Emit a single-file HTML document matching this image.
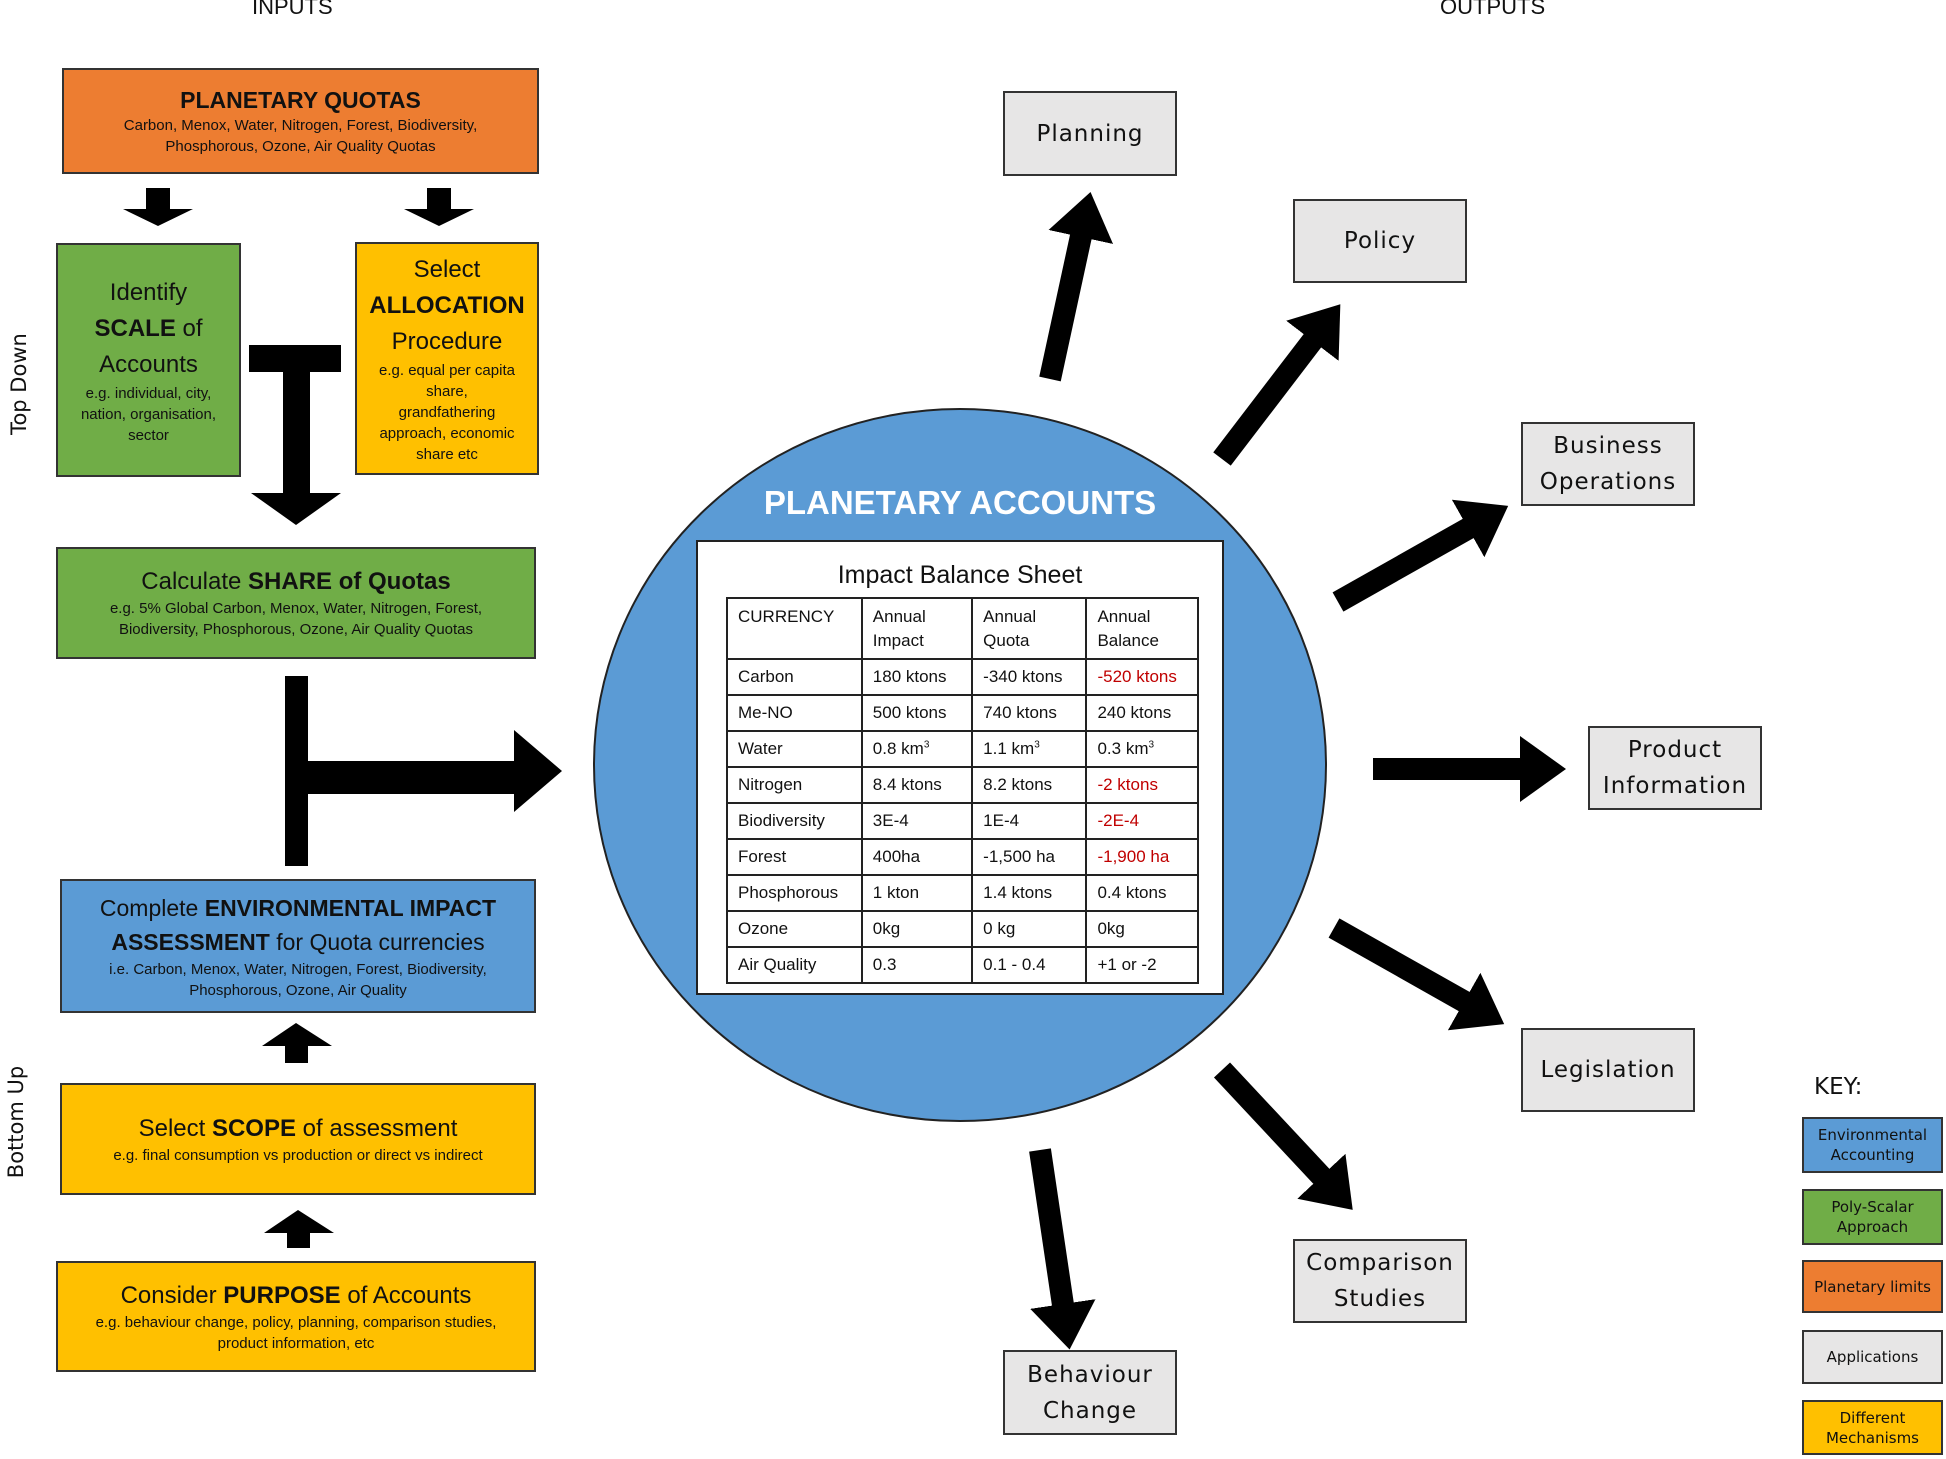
<!DOCTYPE html>
<html><head><meta charset="utf-8"><style>
*{margin:0;padding:0;box-sizing:border-box}
body{width:1946px;height:1459px;position:relative;background:#fff;font-family:"Liberation Sans",sans-serif;overflow:hidden;color:#111}
.b{position:absolute;border:2px solid #333;display:flex;flex-direction:column;justify-content:center;align-items:center;text-align:center}
.or{background:#ed7d31}.gr{background:#70ad47}.ye{background:#ffc000}.bl{background:#5b9bd5}.gy{background:#e7e6e6}
.s{font-size:15px;line-height:21px}
.m{font-size:24px;line-height:32px}
.o{font-family:"DejaVu Sans",sans-serif;font-size:23px;line-height:36px;letter-spacing:1px}
.k{font-family:"DejaVu Sans",sans-serif;font-size:15px;line-height:20px}
.lbl{position:absolute;font-size:22px}
table{position:absolute;left:726px;top:597px;width:473px;border-collapse:collapse;font-size:17px}
td{border:2px solid #222;padding:0 10px;height:36px;vertical-align:middle}
tr:first-child td{height:61px;vertical-align:top;padding-top:6px;line-height:24px}
.r{color:#c00000}
</style></head><body>
<div class="lbl" style="left:252px;top:-6px">INPUTS</div>
<div class="lbl" style="left:1440px;top:-6px">OUTPUTS</div>
<div class="lbl" style="left:-32px;top:372px;transform:rotate(-90deg);font-family:'DejaVu Sans',sans-serif;font-size:21px">Top Down</div>
<div class="lbl" style="left:-40px;top:1110px;transform:rotate(-90deg);font-family:'DejaVu Sans',sans-serif;font-size:21px">Bottom Up</div>

<div class="b or" style="left:62px;top:68px;width:477px;height:106px"><div style="font-size:23px;font-weight:bold;line-height:30px">PLANETARY QUOTAS</div><div class="s">Carbon, Menox, Water, Nitrogen, Forest, Biodiversity,<br>Phosphorous, Ozone, Air Quality Quotas</div></div>
<div class="b gr" style="left:56px;top:243px;width:185px;height:234px"><div style="font-size:24px;line-height:36px">Identify<br><b>SCALE</b> of<br>Accounts</div><div class="s">e.g. individual, city,<br>nation, organisation,<br>sector</div></div>
<div class="b ye" style="left:355px;top:242px;width:184px;height:233px"><div style="font-size:24px;line-height:36px">Select<br><b>ALLOCATION</b><br>Procedure</div><div class="s">e.g. equal per capita<br>share,<br>grandfathering<br>approach, economic<br>share etc</div></div>
<div class="b gr" style="left:56px;top:547px;width:480px;height:112px"><div class="m">Calculate <b>SHARE of Quotas</b></div><div class="s">e.g. 5% Global Carbon, Menox, Water, Nitrogen, Forest,<br>Biodiversity, Phosphorous, Ozone, Air Quality Quotas</div></div>
<div class="b bl" style="left:60px;top:879px;width:476px;height:134px"><div class="m" style="font-size:23px;line-height:34px">Complete <b>ENVIRONMENTAL IMPACT<br>ASSESSMENT</b> for Quota currencies</div><div class="s">i.e. Carbon, Menox, Water, Nitrogen, Forest, Biodiversity,<br>Phosphorous, Ozone, Air Quality</div></div>
<div class="b ye" style="left:60px;top:1083px;width:476px;height:112px"><div class="m">Select <b>SCOPE</b> of assessment</div><div class="s">e.g. final consumption vs production or direct vs indirect</div></div>
<div class="b ye" style="left:56px;top:1261px;width:480px;height:111px"><div class="m">Consider <b>PURPOSE</b> of Accounts</div><div class="s">e.g. behaviour change, policy, planning, comparison studies,<br>product information, etc</div></div>

<svg style="position:absolute;left:0;top:0" width="1946" height="1459">
<defs><marker id="h" markerUnits="userSpaceOnUse" markerWidth="50" markerHeight="66" refX="1" refY="33" orient="auto"><path d="M0,0 L46,33 L0,66 z" fill="#000"/></marker></defs>
<!-- small down arrows -->
<polygon points="146,188 170,188 170,209 193,209 158,226 123,209 146,209" fill="#000"/>
<polygon points="427,188 451,188 451,209 474,209 439,226 404,209 427,209" fill="#000"/>
<!-- T arrow -->
<polygon points="249,345 341,345 341,372 310,372 310,493 341,493 296,525 251,493 283,493 283,372 249,372" fill="#000"/>
<!-- big T -->
<rect x="285" y="676" width="23" height="190" fill="#000"/>
<polygon points="308,761 514,761 514,730 562,771 514,812 514,794 308,794" fill="#000"/>
<!-- up arrows -->
<polygon points="296,1023 332,1046 308,1046 308,1063 285,1063 285,1046 262,1046" fill="#000"/>
<polygon points="298,1210 334,1233 310,1233 310,1248 287,1248 287,1233 264,1233" fill="#000"/>
<!-- circle -->
<ellipse cx="960" cy="765" rx="366" ry="356" fill="#5b9bd5" stroke="#222" stroke-width="2"/>
<!-- output arrows -->
<g stroke="#000" stroke-width="22" marker-end="url(#h)">
<line x1="1050" y1="379" x2="1081" y2="236"/>
<line x1="1222" y1="459" x2="1313" y2="340"/>
<line x1="1338" y1="602" x2="1469" y2="528"/>
<line x1="1373" y1="769" x2="1521" y2="769"/>
<line x1="1334" y1="928" x2="1465" y2="1002"/>
<line x1="1222" y1="1070" x2="1322" y2="1177"/>
<line x1="1040" y1="1150" x2="1063" y2="1305"/>
</g>
</svg>

<div style="position:absolute;left:660px;top:484px;width:600px;text-align:center;color:#fff;font-weight:bold;font-size:33px">PLANETARY ACCOUNTS</div>
<div style="position:absolute;left:696px;top:540px;width:528px;height:455px;background:#fff;border:2px solid #222"></div>
<div style="position:absolute;left:696px;top:561px;width:528px;text-align:center;font-size:25px">Impact Balance Sheet</div>
<table>
<colgroup><col style="width:135px"><col style="width:111px"><col style="width:115px"><col style="width:112px"></colgroup>
<tr><td>CURRENCY</td><td>Annual<br>Impact</td><td>Annual<br>Quota</td><td>Annual<br>Balance</td></tr>
<tr><td>Carbon</td><td>180 ktons</td><td>-340 ktons</td><td class="r">-520 ktons</td></tr>
<tr><td>Me-NO</td><td>500 ktons</td><td>740 ktons</td><td>240 ktons</td></tr>
<tr><td>Water</td><td>0.8 km<sup style="font-size:10px">3</sup></td><td>1.1 km<sup style="font-size:10px">3</sup></td><td>0.3 km<sup style="font-size:10px">3</sup></td></tr>
<tr><td>Nitrogen</td><td>8.4 ktons</td><td>8.2 ktons</td><td class="r">-2 ktons</td></tr>
<tr><td>Biodiversity</td><td>3E-4</td><td>1E-4</td><td class="r">-2E-4</td></tr>
<tr><td>Forest</td><td>400ha</td><td>-1,500 ha</td><td class="r">-1,900 ha</td></tr>
<tr><td>Phosphorous</td><td>1 kton</td><td>1.4 ktons</td><td>0.4 ktons</td></tr>
<tr><td>Ozone</td><td>0kg</td><td>0 kg</td><td>0kg</td></tr>
<tr><td>Air Quality</td><td>0.3</td><td>0.1 - 0.4</td><td>+1 or -2</td></tr>
</table>

<div class="b gy o" style="left:1003px;top:91px;width:174px;height:85px">Planning</div>
<div class="b gy o" style="left:1293px;top:199px;width:174px;height:84px">Policy</div>
<div class="b gy o" style="left:1521px;top:422px;width:174px;height:84px">Business<br>Operations</div>
<div class="b gy o" style="left:1588px;top:726px;width:174px;height:84px">Product<br>Information</div>
<div class="b gy o" style="left:1521px;top:1028px;width:174px;height:84px">Legislation</div>
<div class="b gy o" style="left:1293px;top:1239px;width:174px;height:84px">Comparison<br>Studies</div>
<div class="b gy o" style="left:1003px;top:1350px;width:174px;height:85px">Behaviour<br>Change</div>

<div class="lbl" style="left:1814px;top:1074px;font-family:'DejaVu Sans',sans-serif;font-size:23px">KEY:</div>
<div class="b bl k" style="left:1802px;top:1117px;width:141px;height:56px">Environmental<br>Accounting</div>
<div class="b gr k" style="left:1802px;top:1189px;width:141px;height:56px">Poly-Scalar<br>Approach</div>
<div class="b or k" style="left:1802px;top:1260px;width:141px;height:53px">Planetary limits</div>
<div class="b gy k" style="left:1802px;top:1330px;width:141px;height:54px">Applications</div>
<div class="b ye k" style="left:1802px;top:1400px;width:141px;height:55px">Different<br>Mechanisms</div>
</body></html>
